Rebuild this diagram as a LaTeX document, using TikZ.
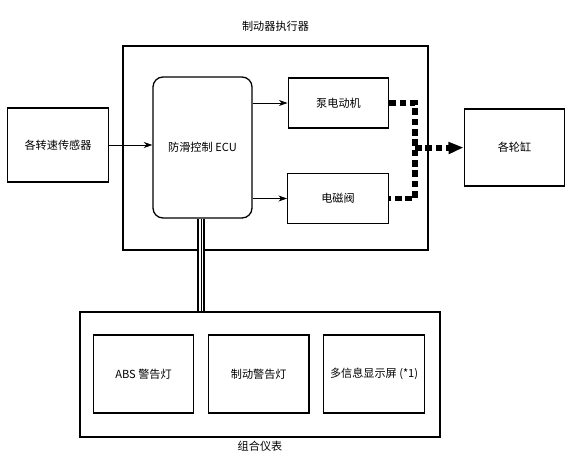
\documentclass[tikz,border=0pt]{standalone}
\usepackage{fontspec}
\setmainfont{Noto Sans CJK SC}
\usepackage{tikz}
\usetikzlibrary{arrows.meta,positioning}

\begin{document}
\begin{tikzpicture}[
    x=0.03cm, y=-0.03cm,
    font=\fontsize{9.5}{11}\selectfont,
    unit/.style={rectangle, draw, line width=1.1pt, minimum width=3.02cm, minimum height=1.5cm},
    frame/.style={rectangle, draw, line width=1.1pt},
    arrow/.style={-{Stealth[length=2.6mm,width=1.8mm]}, line width=0.6pt},
    bus/.style={line width=4.4pt, dash pattern=on 2mm off 1.1mm},
    cable/.style={line width=1.5pt, double distance=4.2pt}
]
    \useasboundingbox (0,0) rectangle (568,458);

    % outer frames
    \node[frame, minimum width=9.15cm, minimum height=6.12cm] (act) at (275.5,148) {};
    \node[above=0.3cm of act.north] (acttitle) {制动器执行器};
    \node[frame, minimum width=10.8cm, minimum height=3.75cm] (meter) at (260,374.5) {};
    \node[below=-0.02cm of meter.south] (metertitle) {组合仪表};

    % actuator contents
    \node[unit, rounded corners=0.3cm, minimum width=2.97cm, minimum height=4.23cm] (ECU) at (202.5,147.5) {防滑控制 ECU};
    \node[unit] (pump) at (338.5,103) {泵电动机};
    \node[unit] (valve) at (338,198.5) {电磁阀};

    % outside
    \node[unit, minimum height=2.22cm] (sensor) at (58,145) {各转速传感器};
    \node[unit, minimum height=2.31cm] (wheel) at (514.5,147.5) {各轮缸};

    % combination meter contents
    \node[unit, minimum height=2.34cm] (abs) at (143.5,374) {ABS 警告灯};
    \node[unit, minimum height=2.34cm, right=0.4cm of abs] (brake) {制动警告灯};
    \node[unit, minimum height=2.34cm, right=0.4cm of brake] (info) {多信息显示屏 (*1)};

    \coordinate (join) at (415,148);

    \draw[arrow] (sensor.east) -- (sensor.east -| ECU.west);
    \draw[arrow] (pump.west -| ECU.east) -- (pump.west);
    \draw[arrow] (valve.west -| ECU.east) -- (valve.west);

    \draw[bus] (pump.east) -| (join) |- (valve.east);
    \draw[bus] (join) -- ++(34,0) coordinate (tipstart);
    \draw[line width=4.4pt, -{Triangle[length=0.45cm,width=0.34cm]}] (tipstart) -- (wheel.west);

    \draw[cable] (ECU.south) ++(-1.5,0) coordinate (cabtop) -- (cabtop |- meter.north);
    \draw[line width=0.4pt] (cabtop) -- (cabtop |- meter.north);
\end{tikzpicture}
\end{document}
